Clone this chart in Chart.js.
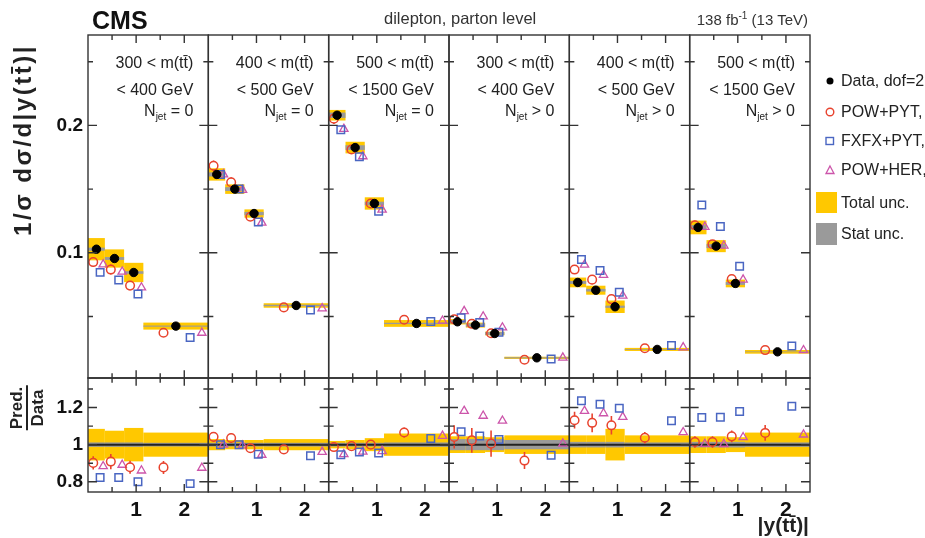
<!DOCTYPE html>
<html>
<head>
<meta charset="utf-8">
<script src="https://cdn.jsdelivr.net/npm/chart.js@4.4.1/dist/chart.umd.min.js"></script>
<style>
  body { margin: 0; background: #fff; }
  #wrap { position: relative; width: 925px; height: 538px; overflow: hidden;
          font-family: "Liberation Sans", Arial, sans-serif; color: #222; }
  canvas { position: absolute; left: 0; }
  .t { position: absolute; white-space: nowrap; line-height: 1; }
  .plab { position: absolute; text-align: right; font-size: 16px; white-space: nowrap; line-height: 1; }
  .leg { position: absolute; left: 841px; font-size: 16px; white-space: nowrap; line-height: 1; transform: translateY(-50%); }
  .mk { position: absolute; transform: translate(-50%, -50%); }
</style>
</head>
<body>
<div id="wrap">
  <canvas id="upper" width="925" height="385" style="top:0"></canvas>
  <canvas id="lower" width="925" height="167" style="top:371px"></canvas>
  <div id="labels"></div>
</div>
<script>
// |y(tt)| binning, same in every m(tt)/Njet panel
const binEdges = [0, 0.35, 0.75, 1.15, 2.5];
const massLow = ['300', '400', '500', '300', '400', '500'];
const massHigh = ['400', '500', '1500', '400', '500', '1500'];
const njetCut = ['= 0', '= 0', '= 0', '> 0', '> 0', '> 0'];

// normalised cross sections, one row per panel
const dataVals = [
  [0.1028, 0.0955, 0.0845, 0.0424],
  [0.1615, 0.1500, 0.1308, 0.0586],
  [0.2080, 0.1826, 0.1387, 0.0445],
  [0.0458, 0.0432, 0.0366, 0.0175],
  [0.0767, 0.0706, 0.0576, 0.0241],
  [0.1199, 0.1052, 0.0759, 0.0222]
];
const powPyt = [
  [0.0927, 0.0868, 0.0742, 0.0372],
  [0.1683, 0.1554, 0.1283, 0.0571],
  [0.2053, 0.1811, 0.1387, 0.0474],
  [0.0477, 0.0442, 0.0368, 0.0160],
  [0.0868, 0.0789, 0.0636, 0.0250],
  [0.1216, 0.1067, 0.0793, 0.0236]
];
const fxfxPyt = [
  [0.0846, 0.0786, 0.0676, 0.0335],
  [0.1615, 0.1500, 0.1241, 0.0551],
  [0.1966, 0.1753, 0.1325, 0.0460],
  [0.0490, 0.0452, 0.0376, 0.0165],
  [0.0948, 0.0860, 0.0689, 0.0272],
  [0.1375, 0.1207, 0.0894, 0.0268]
];
const powHer = [
  [0.0908, 0.0851, 0.0727, 0.0371],
  [0.1615, 0.1493, 0.1236, 0.0563],
  [0.1972, 0.1757, 0.1338, 0.0466],
  [0.0541, 0.0499, 0.0413, 0.0176],
  [0.0906, 0.0825, 0.0662, 0.0257],
  [0.1203, 0.1055, 0.0789, 0.0234]
];
// relative uncertainties
const powPytErr = [
  [0.040, 0.045, 0.040, 0.040],
  [0.025, 0.025, 0.025, 0.025],
  [0.020, 0.020, 0.020, 0.025],
  [0.060, 0.065, 0.070, 0.050],
  [0.040, 0.045, 0.045, 0.030],
  [0.030, 0.030, 0.030, 0.040]
];
const totUnc = [
  [0.085, 0.075, 0.090, 0.065],
  [0.030, 0.025, 0.025, 0.030],
  [0.020, 0.025, 0.035, 0.060],
  [0.045, 0.045, 0.040, 0.050],
  [0.050, 0.050, 0.085, 0.050],
  [0.045, 0.045, 0.040, 0.065]
];
const statUnc = [
  [0.012, 0.012, 0.012, 0.010],
  [0.010, 0.010, 0.010, 0.010],
  [0.010, 0.010, 0.010, 0.012],
  [0.030, 0.030, 0.030, 0.025],
  [0.015, 0.015, 0.015, 0.012],
  [0.015, 0.015, 0.015, 0.012]
];

const W = 2.5;            // x range of one panel
const nPanels = 6;
const FONT = '"Liberation Sans", Arial, sans-serif';
const RED = '#e8432e', BLUE = '#4a66c2', MAG = '#cc55aa', YEL = '#ffc800', GRY = '#9a9a9a';

function bin(b) {
  const lo = binEdges[b], hi = binEdges[b + 1];
  return { lo, hi, c: (lo + hi) / 2, w: hi - lo };
}

// marker positions within a bin (fraction of bin width from the centre)
const shiftData = 0, shiftPow = -0.19, shiftFx = 0.22, shiftHer = 0.40;

function points(vals, shift, ratio) {
  const out = [];
  vals.forEach((row, p) => row.forEach((v, b) => {
    const g = bin(b);
    out.push({ x: p * W + g.c + shift * g.w, y: ratio ? v / dataVals[p][b] : v });
  }));
  return out;
}

const xTicks = [];
for (let p = 0; p < nPanels; p++) [0.5, 1, 1.5, 2].forEach(v => xTicks.push(p * W + v));

// uncertainty boxes, error bars, frames and inward tick marks
const cmsPlugin = {
  id: 'cms',
  beforeDatasetsDraw(chart, args, opts) {
    const { ctx, chartArea: a, scales: { x, y } } = chart;
    ctx.save();
    ctx.beginPath(); ctx.rect(a.left, a.top, a.width, a.height); ctx.clip();
    dataVals.forEach((row, p) => row.forEach((v, b) => {
      const g = bin(b);
      const x0 = x.getPixelForValue(p * W + g.lo), x1 = x.getPixelForValue(p * W + g.hi);
      const ref = opts.ratio ? 1 : v;
      [[totUnc, YEL], [statUnc, GRY]].forEach(([u, col]) => {
        const d = u[p][b] * ref;
        const y0 = y.getPixelForValue(ref + d), y1 = y.getPixelForValue(ref - d);
        ctx.fillStyle = col;
        ctx.fillRect(x0, y0, x1 - x0, y1 - y0);
      });
    }));
    if (opts.ratio) {
      const y1 = y.getPixelForValue(1);
      ctx.strokeStyle = '#222'; ctx.lineWidth = 2;
      ctx.beginPath(); ctx.moveTo(a.left, y1); ctx.lineTo(a.right, y1); ctx.stroke();
    }
    // POW+PYT error bars
    ctx.strokeStyle = RED; ctx.lineWidth = 1.6;
    powPyt.forEach((row, p) => row.forEach((v, b) => {
      const g = bin(b);
      const val = opts.ratio ? v / dataVals[p][b] : v;
      const e = powPytErr[p][b] * val;
      const px = x.getPixelForValue(p * W + g.c + shiftPow * g.w);
      const pc = y.getPixelForValue(val);
      const pt = y.getPixelForValue(val + e), pb = y.getPixelForValue(val - e);
      ctx.beginPath();
      if (pt < pc - 4) { ctx.moveTo(px, pt); ctx.lineTo(px, pc - 4); }
      if (pb > pc + 4) { ctx.moveTo(px, pc + 4); ctx.lineTo(px, pb); }
      ctx.stroke();
    }));
    ctx.restore();
  },
  afterDatasetsDraw(chart, args, opts) {
    const { ctx, chartArea: a, scales: { x, y } } = chart;
    ctx.save();
    ctx.strokeStyle = '#333'; ctx.lineWidth = 1.4;
    for (let p = 0; p < nPanels; p++) {
      const L = x.getPixelForValue(p * W), R = x.getPixelForValue((p + 1) * W);
      ctx.strokeRect(L, a.top, R - L, a.bottom - a.top);
      ctx.beginPath();
      opts.yTicks.forEach(t => {
        const py = y.getPixelForValue(t);
        const len = opts.yMajor.includes(t) ? 9 : 5;
        ctx.moveTo(L, py); ctx.lineTo(L + len, py);
        ctx.moveTo(R, py); ctx.lineTo(R - len, py);
      });
      [0.5, 1, 1.5, 2].forEach(t => {
        const px = x.getPixelForValue(p * W + t);
        const len = Number.isInteger(t) ? 8 : 5;
        ctx.moveTo(px, a.top); ctx.lineTo(px, a.top + len);
        ctx.moveTo(px, a.bottom); ctx.lineTo(px, a.bottom - len);
      });
      ctx.stroke();
    }
    ctx.restore();
  }
};

function datasets(ratio) {
  const sets = [];
  if (!ratio) sets.push({ label: 'Data', data: points(dataVals, shiftData, false), pointStyle: 'circle',
    pointRadius: 4.2, backgroundColor: '#000', borderColor: '#000', borderWidth: 1 });
  sets.push(
    { label: 'POW+PYT', data: points(powPyt, shiftPow, ratio), pointStyle: 'circle', pointRadius: 4.3,
      backgroundColor: 'rgba(255,255,255,0)', borderColor: RED, borderWidth: 1.5 },
    { label: 'FXFX+PYT', data: points(fxfxPyt, shiftFx, ratio), pointStyle: 'rect', pointRadius: 5.3,
      backgroundColor: 'rgba(255,255,255,0)', borderColor: BLUE, borderWidth: 1.5 },
    { label: 'POW+HER', data: points(powHer, shiftHer, ratio), pointStyle: 'triangle', pointRadius: 4.8,
      backgroundColor: 'rgba(255,255,255,0)', borderColor: MAG, borderWidth: 1.3 }
  );
  return sets;
}

function noPad(s) { s.paddingTop = 0; s.paddingBottom = 0; s.paddingLeft = 0; s.paddingRight = 0; }

function makeChart(id, ratio) {
  const yTicks = ratio ? [0.8, 0.9, 1.0, 1.1, 1.2, 1.3] : [0.05, 0.1, 0.15, 0.2, 0.25];
  const yMajor = ratio ? [0.8, 1.0, 1.2] : [0.1, 0.2];
  return new Chart(document.getElementById(id), {
    type: 'scatter',
    data: { datasets: datasets(ratio) },
    options: {
      responsive: false,
      animation: false,
      layout: { padding: { left: 0, right: 115, top: ratio ? 2 : 35, bottom: ratio ? 0 : 2 } },
      plugins: {
        legend: { display: false },
        tooltip: { enabled: false },
        cms: { ratio, yTicks, yMajor }
      },
      scales: {
        x: {
          type: 'linear', min: 0, max: nPanels * W, display: ratio,
          grid: { display: false, drawTicks: false }, border: { display: false },
          afterBuildTicks: s => { s.ticks = xTicks.map(v => ({ value: v })); },
          afterFit: s => { s.height = ratio ? 46 : 0; noPad(s); },
          ticks: {
            autoSkip: false, maxRotation: 0, padding: 6, color: '#111',
            font: { family: FONT, size: 21, weight: 'bold' },
            callback: v => { const l = Math.round((v % W) * 10) / 10; return (l === 1 || l === 2) ? String(l) : ''; }
          }
        },
        y: {
          type: 'linear', min: ratio ? 0.745 : 0.0015, max: ratio ? 1.36 : 0.271,
          grid: { display: false, drawTicks: false }, border: { display: false },
          afterBuildTicks: s => { s.ticks = yTicks.map(v => ({ value: v })); },
          afterFit: s => { s.width = 88; noPad(s); },
          ticks: {
            padding: 5, color: '#111',
            font: { family: FONT, size: 19, weight: 'bold' },
            callback: v => yMajor.some(m => Math.abs(m - v) < 1e-6) ? (Math.abs(v - 1) < 1e-6 ? '1' : v.toFixed(1)) : ''
          }
        }
      }
    },
    plugins: [cmsPlugin]
  });
}

makeChart('upper', false);
makeChart('lower', true);

// text overlays: titles, panel labels, legend
const lab = document.getElementById('labels');
function add(html, css, cls) {
  const d = document.createElement('div');
  d.className = cls || 't';
  d.innerHTML = html;
  d.style.cssText = css;
  lab.appendChild(d);
  return d;
}
add('CMS', 'left:92px;top:8px;font-size:25px;font-weight:bold;color:#111');
add('dilepton, parton level', 'left:384px;top:10px;font-size:16.5px;color:#333');
add('138 fb<sup style="font-size:10px">-1</sup> (13 TeV)', 'right:117px;top:11px;font-size:15px;color:#333');

const left = 88, pw = (810 - 88) / nPanels;
for (let p = 0; p < nPanels; p++) {
  const r = 925 - (left + pw * (p + 1)) + 15;
  add(massLow[p] + ' &lt; m(tt\u0304)', `right:${r}px;top:55px`, 'plab');
  add('&lt; ' + massHigh[p] + ' GeV', `right:${r}px;top:82px`, 'plab');
  add('N<sub style="font-size:10px">jet</sub> ' + njetCut[p], `right:${r}px;top:103px`, 'plab');
}

// y titles
add('1/σ dσ/d|y(tt\u0304)|', 'left:23px;top:140px;font-size:24px;font-weight:bold;letter-spacing:2.5px;color:#222;transform:translate(-50%,-50%) rotate(-90deg)');
add('<div style="border-bottom:2px solid #222;padding:0 1px 1px">Pred.</div><div style="padding-top:1px">Data</div>',
    'left:27px;top:408px;font-size:17px;font-weight:bold;text-align:center;color:#222;transform:translate(-50%,-50%) rotate(-90deg)');
// x title
add('|y(tt\u0304)|', 'right:116px;top:514px;font-size:21px;font-weight:bold;color:#222');

// legend
const legRows = [
  ['Data, dof=2', '<svg width="10" height="10"><circle cx="5" cy="5" r="3.5" fill="#000"/></svg>', 81],
  ['POW+PYT,', `<svg width="12" height="12"><circle cx="6" cy="6" r="3.8" fill="none" stroke="${RED}" stroke-width="1.4"/></svg>`, 112],
  ['FXFX+PYT,', `<svg width="12" height="12"><rect x="2" y="2.5" width="7.5" height="7" fill="none" stroke="${BLUE}" stroke-width="1.4"/></svg>`, 141],
  ['POW+HER,', `<svg width="12" height="12"><polygon points="6,2 10,9.5 2,9.5" fill="none" stroke="${MAG}" stroke-width="1.3"/></svg>`, 170]
];
legRows.forEach(([txt, svg, y]) => {
  add(svg, `left:830px;top:${y}px;line-height:0`, 'mk');
  add(txt, `top:${y}px`, 'leg');
});
add('', `left:816px;top:192px;width:21px;height:21px;background:${YEL}`);
add('Total unc.', 'top:203px', 'leg');
add('', `left:816px;top:223px;width:21px;height:22px;background:${GRY}`);
add('Stat unc.', 'top:234px', 'leg');
</script>
</body>
</html>
